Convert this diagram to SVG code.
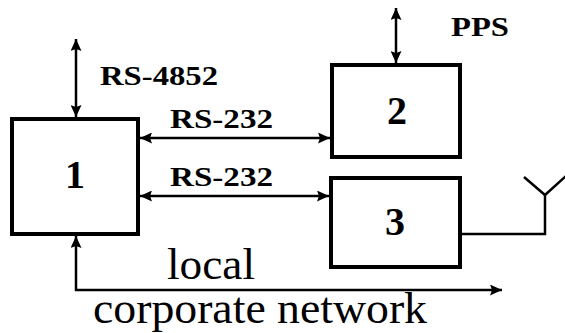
<svg xmlns="http://www.w3.org/2000/svg" width="565" height="333" viewBox="0 0 565 333">
  <style>
    .box { fill: #ffffff; stroke: #000000; stroke-width: 4; }
    .wire { fill: none; stroke: #000000; stroke-width: 2.5; }
    text { font-family: 'Liberation Serif', 'Times New Roman', Tinos, 'DejaVu Serif', serif; fill: #000000; }
    .lbl { font-weight: bold; font-size: 27px; }
    .num { font-weight: bold; font-size: 40px; text-anchor: middle; }
    .net { font-weight: normal; font-size: 45px; }
  </style>
  <defs>
    <!-- filled arrowhead shared by all connectors -->
    <marker id="head" viewBox="0 0 12 11" refX="12" refY="5.5" markerWidth="12" markerHeight="11" markerUnits="userSpaceOnUse" orient="auto-start-reverse">
      <path d="M0,0 L12,5.5 L0,11 L2,5.5 z" fill="#000000"/>
    </marker>
  </defs>

  <rect width="565" height="333" fill="#ffffff"/>

  <g id="connectors">
    <line class="wire" x1="76" y1="39" x2="76" y2="117" marker-start="url(#head)" marker-end="url(#head)"/>
    <line class="wire" x1="396" y1="8" x2="396" y2="63" marker-start="url(#head)" marker-end="url(#head)"/>
    <line class="wire" x1="140" y1="138" x2="330" y2="138" marker-start="url(#head)" marker-end="url(#head)"/>
    <line class="wire" x1="140" y1="196" x2="329" y2="196" marker-start="url(#head)" marker-end="url(#head)"/>
    <path class="wire" d="M76,236 L76,290 L502,290" marker-start="url(#head)" marker-end="url(#head)"/>
    <!-- antenna feed -->
    <path class="wire" d="M462,234 L545,234 L545,195"/>
    <path class="wire" d="M524,177 L545,195 L566,176"/>
  </g>

  <g id="node-1">
    <rect class="box" x="12" y="119" width="126" height="115"/>
    <text class="num" x="75" y="188">1</text>
  </g>
  <g id="node-2">
    <rect class="box" x="332" y="65" width="128" height="92"/>
    <text class="num" x="397" y="124">2</text>
  </g>
  <g id="node-3">
    <rect class="box" x="331" y="178" width="129" height="89"/>
    <text class="num" x="395" y="235">3</text>
  </g>

  <g id="labels">
    <text class="lbl" x="100" y="85" textLength="118" lengthAdjust="spacingAndGlyphs">RS-4852</text>
    <text class="lbl" x="451" y="36" textLength="58" lengthAdjust="spacingAndGlyphs">PPS</text>
    <text class="lbl" x="170" y="128" textLength="103" lengthAdjust="spacingAndGlyphs">RS-232</text>
    <text class="lbl" x="170" y="186" textLength="103" lengthAdjust="spacingAndGlyphs">RS-232</text>
    <text class="net" x="167" y="279" textLength="88" lengthAdjust="spacingAndGlyphs">local</text>
    <text class="net" x="93" y="323" textLength="334" lengthAdjust="spacingAndGlyphs">corporate network</text>
  </g>
</svg>
